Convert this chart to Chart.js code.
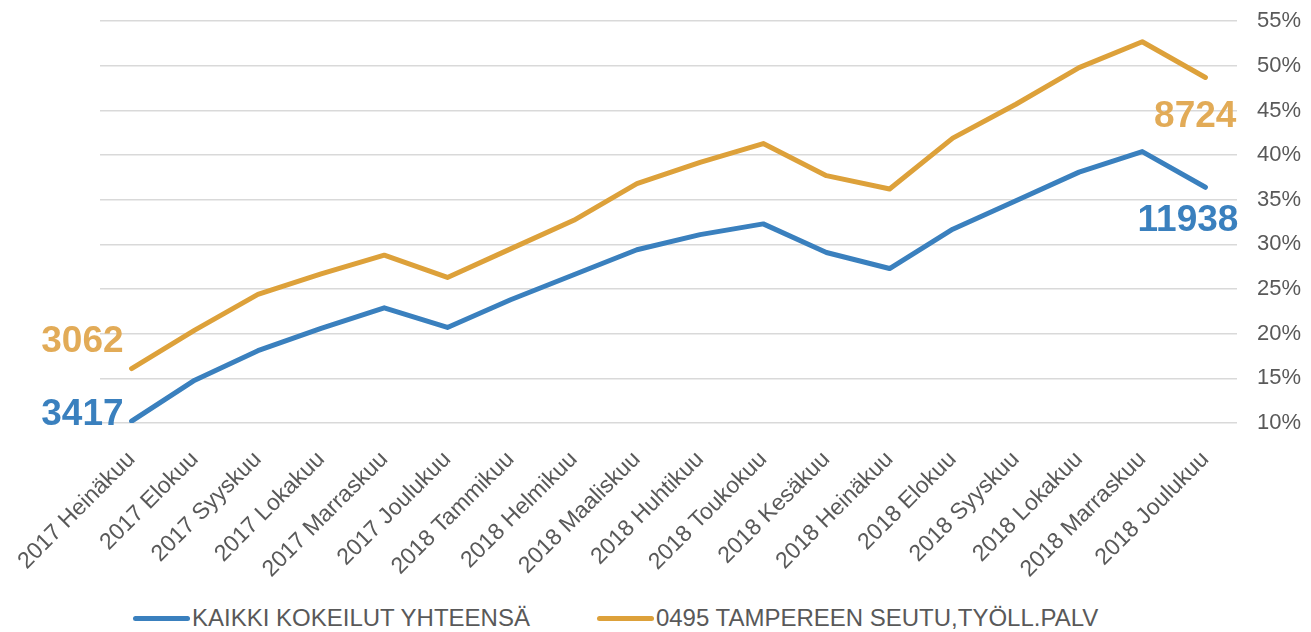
<!DOCTYPE html>
<html lang="fi">
  <head>
    <meta charset="UTF-8" />
    <title>Kokeilut</title>
    <script src="https://cdn.jsdelivr.net/npm/chart.js@4"></script>
    <style>
      html, body { margin: 0; padding: 0; background: #fff; }
      body { width: 1311px; height: 632px; overflow: hidden; position: relative; font-family: "Liberation Sans", Arial, sans-serif; }
      #wrap { position: absolute; left: 0; top: -12px; width: 1311px; height: 612px; }
      .legend { position: absolute; top: 604px; left: 133px; display: flex; align-items: center; color: #595959; font-size: 24px; }
      .legend .item { display: flex; align-items: center; }
      .legend .swatch { width: 57px; height: 5px; border-radius: 3px; margin-right: 2px; }
      .legend .item + .item { margin-left: 67px; }
    </style>
  </head>
  <body>
    <div id="wrap"><canvas id="chart"></canvas></div>
    <div class="legend" id="legend"></div>

    <script>
      const months = [
        "2017 Heinäkuu", "2017 Elokuu", "2017 Syyskuu", "2017 Lokakuu",
        "2017 Marraskuu", "2017 Joulukuu", "2018 Tammikuu", "2018 Helmikuu",
        "2018 Maaliskuu", "2018 Huhtikuu", "2018 Toukokuu", "2018 Kesäkuu",
        "2018 Heinäkuu", "2018 Elokuu", "2018 Syyskuu", "2018 Lokakuu",
        "2018 Marraskuu", "2018 Joulukuu"
      ];

      // percentages
      const kaikki = [10.2, 14.8, 18.1, 20.6, 22.9, 20.7, 23.8, 26.6, 29.4, 31.1, 32.3, 29.1, 27.3, 31.7, 34.9, 38.1, 40.4, 36.4];
      const tampere = [16.1, 20.4, 24.4, 26.7, 28.8, 26.3, 29.5, 32.7, 36.8, 39.2, 41.3, 37.7, 36.2, 41.9, 45.7, 49.8, 52.7, 48.7];

      const kaikkiEnds = ["3417", "11938"];
      const tampereEnds = ["3062", "8724"];

      const yTicks = [10, 15, 20, 25, 30, 35, 40, 45, 50, 55];

      const blue = "#3a80be";
      const gold = "#dda13a";

      // numbers at the first and last point of each line
      const endLabels = {
        id: "endLabels",
        afterDatasetsDraw(chart) {
          const ctx = chart.ctx;
          const specs = [
            { ds: 0, texts: kaikkiEnds, color: "#3a80be", first: [-8, -6], last: [33, 34] },
            { ds: 1, texts: tampereEnds, color: "#e2ab57", first: [-8, -27], last: [31, 39] }
          ];
          ctx.save();
          ctx.font = "bold 37px 'Liberation Sans', Arial, sans-serif";
          ctx.textAlign = "right";
          ctx.textBaseline = "middle";
          specs.forEach((s) => {
            const pts = chart.getDatasetMeta(s.ds).data;
            const a = pts[0];
            const b = pts[pts.length - 1];
            ctx.fillStyle = s.color;
            ctx.fillText(s.texts[0], a.x + s.first[0], a.y + s.first[1]);
            ctx.fillText(s.texts[1], b.x + s.last[0], b.y + s.last[1]);
          });
          ctx.restore();
        }
      };

      const datasets = [
        { label: "KAIKKI KOKEILUT YHTEENSÄ", data: kaikki, borderColor: blue },
        { label: "0495 TAMPEREEN SEUTU,TYÖLL.PALV", data: tampere, borderColor: gold }
      ];

      const legend = document.getElementById("legend");
      datasets.forEach((d) => {
        const item = document.createElement("div");
        item.className = "item";
        const sw = document.createElement("span");
        sw.className = "swatch";
        sw.style.background = d.borderColor;
        const txt = document.createElement("span");
        txt.textContent = d.label;
        item.appendChild(sw);
        item.appendChild(txt);
        legend.appendChild(item);
      });

      const ctx = document.getElementById("chart").getContext("2d");
      new Chart(ctx, {
        type: "line",
        data: {
          labels: months,
          datasets: datasets.map((d) => ({
            ...d,
            borderWidth: 5,
            pointRadius: 0,
            tension: 0,
            fill: false,
            borderJoinStyle: "round",
            borderCapStyle: "round"
          }))
        },
        plugins: [endLabels],
        options: {
          responsive: true,
          maintainAspectRatio: false,
          animation: false,
          layout: { padding: { left: 100, top: 7, right: 0, bottom: 0 } },
          plugins: {
            legend: { display: false },
            tooltip: { enabled: false }
          },
          scales: {
            x: {
              offset: true,
              grid: { display: false },
              border: { display: false },
              ticks: {
                color: "#595959",
                font: { family: "'Liberation Sans', Arial, sans-serif", size: 23 },
                minRotation: 45,
                maxRotation: 45,
                autoSkip: false,
                padding: 15
              },
              afterFit(scale) { scale.height = 177; }
            },
            y: {
              position: "right",
              min: 10,
              max: 55,
              afterBuildTicks(scale) { scale.ticks = yTicks.map((v) => ({ value: v })); },
              grid: { color: "#d9d9d9", lineWidth: 1.5, drawTicks: false },
              border: { display: false },
              ticks: {
                color: "#595959",
                font: { family: "'Liberation Sans', Arial, sans-serif", size: 22 },
                padding: 20,
                callback: (v) => v + "%"
              },
              afterFit(scale) { scale.width = 74; }
            }
          }
        }
      });
    </script>
  </body>
</html>
